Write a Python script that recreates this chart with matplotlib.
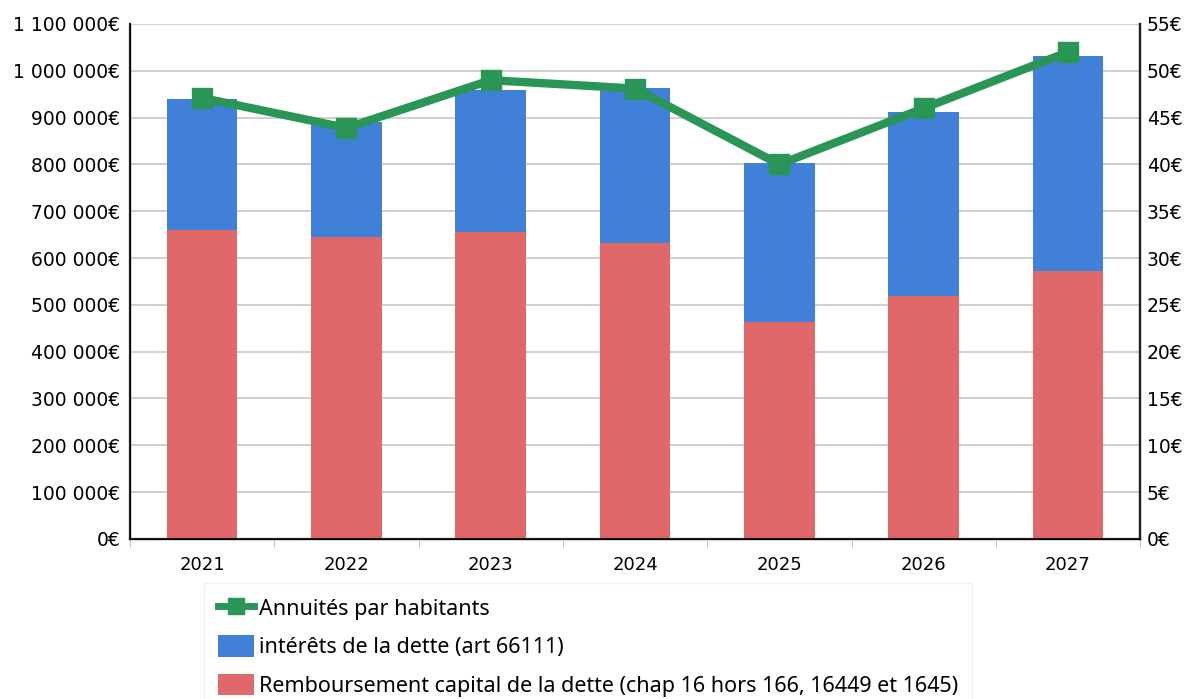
import matplotlib.pyplot as plt
import numpy as np
from matplotlib.ticker import FuncFormatter, FixedLocator

annees = ["2021", "2022", "2023", "2024", "2025", "2026", "2027"]
remboursement = [660000, 646000, 656000, 633000, 464000, 518000, 573000]
interets = [280000, 244000, 302000, 331000, 339000, 393000, 459000]
annuites_hab = [47.1, 43.9, 49.0, 48.1, 40.0, 46.0, 52.0]

c_rouge = "#e06868"
c_bleu = "#4180d8"
c_vert = "#2a9656"

plt.rcParams["font.family"] = ["DejaVu Sans"]

fig = plt.figure(figsize=(11.87, 6.99), dpi=100)
ax = fig.add_axes([0.1095, 0.229, 0.851, 0.7367])
x = np.arange(len(annees))

b1 = ax.bar(x, remboursement, width=0.49, color=c_rouge, zorder=2,
            label="Remboursement capital de la dette (chap 16 hors 166, 16449 et 1645)")
b2 = ax.bar(x, interets, bottom=remboursement, width=0.49, color=c_bleu, zorder=2,
            label="intérêts de la dette (art 66111)")

ax.set_xlim(-0.5, 6.5)
ax.set_ylim(0, 1100000)
ax.set_yticks(np.arange(0, 1100001, 100000))
ax.yaxis.set_major_formatter(FuncFormatter(lambda v, p: f"{int(v):,}€".replace(",", " ")))
ax.set_xticks(x)
ax.set_xticklabels(annees)
ax.xaxis.set_minor_locator(FixedLocator(np.arange(-0.5, 7, 1)))
ax.tick_params(axis="x", which="major", length=0, pad=12, labelsize=13)
ax.tick_params(axis="x", which="minor", length=6, color="#bbbbbb", direction="out")
ax.tick_params(axis="y", length=0, labelsize=13.5, pad=7)
ax.grid(axis="y", color="#cccccc", linewidth=1.3, zorder=0)
ax.set_axisbelow(True)
ax.spines["top"].set_visible(False)
for s in ["left", "bottom", "right"]:
    ax.spines[s].set_linewidth(1.6)
    ax.spines[s].set_color("#222222")

ax2 = ax.twinx()
ax2.set_ylim(0, 55)
ax2.set_yticks(np.arange(0, 56, 5))
ax2.yaxis.set_major_formatter(FuncFormatter(lambda v, p: f"{int(v)}€"))
ax2.tick_params(axis="y", length=0, labelsize=13.5, pad=5)
ax2.spines["top"].set_visible(False)
ax2.spines["right"].set_linewidth(1.6)
ax2.spines["right"].set_color("#222222")
l1, = ax2.plot(x, annuites_hab, color=c_vert, linewidth=6, marker="s",
               markersize=15, zorder=3, label="Annuités par habitants")

leg = fig.legend(handles=[l1, b2, b1], loc="upper left",
                 bbox_to_anchor=(0.177, 0.157), frameon=True,
                 prop={"family": "Noto Sans", "size": 15.5},
                 labelspacing=0.72, handlelength=1.7, handleheight=1.15,
                 handletextpad=0.2, borderpad=0.35, borderaxespad=0)
leg.get_frame().set_edgecolor("#eeeeee")
leg.get_frame().set_linewidth(1)
leg.get_frame().set_boxstyle("square")
leg.legend_handles[0].set_markersize(11)
leg.legend_handles[0].set_linewidth(5)

fig.savefig("out.png", dpi=100)
